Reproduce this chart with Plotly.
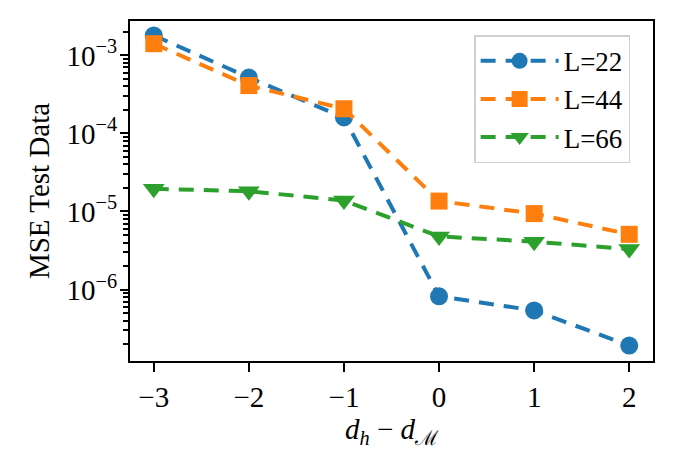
import plotly.graph_objects as go

x_vals = [-3, -2, -1, 0, 1, 2]
series_names = ["L=22", "L=44", "L=66"]
mse_L22 = [1.8e-3, 5.2e-4, 1.6e-4, 8.2e-7, 5.4e-7, 1.92e-7]
mse_L44 = [1.41e-3, 4.1e-4, 2.07e-4, 1.36e-5, 9.4e-6, 5.1e-6]
mse_L66 = [1.95e-5, 1.82e-5, 1.38e-5, 4.8e-6, 4.1e-6, 3.3e-6]
colors = ["#1f77b4", "#ff7f0e", "#2ca02c"]
symbols = ["circle", "square", "triangle-down"]
sizes = [18, 17, 19]

y_major_exp = [-6, -5, -4, -3]
y_tickvals = [10.0 ** e for e in y_major_exp]
y_ticktext = ["10<sup>−6</sup>", "10<sup>−5</sup>", "10<sup>−4</sup>", "10<sup>−3</sup>"]
x_ticktext = ["−3", "−2", "−1", "0", "1", "2"]

# all ticks (minor + major); labels only on the decades
all_vals, all_text = [], []
for e in range(-7, -2):
    for m in range(1, 10):
        all_vals.append(m * 10.0 ** e)
        if m == 1 and e in y_major_exp:
            all_text.append(y_ticktext[y_major_exp.index(e)])
        else:
            all_text.append("")

FONT = "Liberation Serif"
FS = 29
Y_RANGE = [-6.915, -2.56]

fig = go.Figure()
for name, ys, c, s, sz in zip(series_names, [mse_L22, mse_L44, mse_L66], colors, symbols, sizes):
    fig.add_trace(go.Scatter(
        x=x_vals, y=ys, name=name, mode="lines+markers",
        line=dict(color=c, width=4, dash="15px,10px"),
        marker=dict(symbol=s, size=sz, color=c, line=dict(width=0)),
    ))
# helper trace on y2 (long major ticks)
fig.add_trace(go.Scatter(
    x=x_vals, y=mse_L22, yaxis="y2", mode="markers",
    marker=dict(opacity=0), showlegend=False, hoverinfo="skip",
))

fig.update_layout(
    width=667, height=452,
    margin=dict(l=122, r=22, t=13, b=99),
    paper_bgcolor="white", plot_bgcolor="white",
    font=dict(family=FONT, size=FS, color="black"),
    legend=dict(
        x=0.658, y=0.958, xanchor="left", yanchor="top",
        bgcolor="rgba(255,255,255,0.8)", bordercolor="#d0d0d0", borderwidth=1.5,
        font=dict(family=FONT, size=27), itemwidth=78,
    ),
    showlegend=True,
    yaxis=dict(
        type="log", range=Y_RANGE, tickmode="array", tickvals=all_vals, ticktext=all_text,
        ticks="outside", ticklen=5, tickwidth=1.6, tickcolor="black",
        showline=True, linecolor="black", linewidth=2.2, mirror=True,
        showgrid=False, zeroline=False,
        tickfont=dict(family=FONT, size=FS),
        title=dict(text="MSE Test Data", font=dict(family=FONT, size=FS), standoff=8),
    ),
    yaxis2=dict(
        type="log", range=Y_RANGE, overlaying="y", side="left", anchor="x",
        tickmode="array", tickvals=y_tickvals, showticklabels=False,
        ticks="outside", ticklen=9, tickwidth=2.2, tickcolor="black",
        showline=False, showgrid=False, zeroline=False,
    ),
)
fig.update_xaxes(
    range=[-3.25, 2.25], tickvals=x_vals, ticktext=x_ticktext,
    ticks="outside", ticklen=9, tickwidth=2.2, tickcolor="black",
    showline=True, linecolor="black", linewidth=2.2, mirror=True,
    showgrid=False, zeroline=False,
    tickfont=dict(family=FONT, size=FS),
    title=dict(text="<i>d</i><sub><i>h</i></sub> − <i>d</i><sub>ℳ</sub>", font=dict(family=FONT, size=FS), standoff=0),
)

fig.write_html("out.html")
